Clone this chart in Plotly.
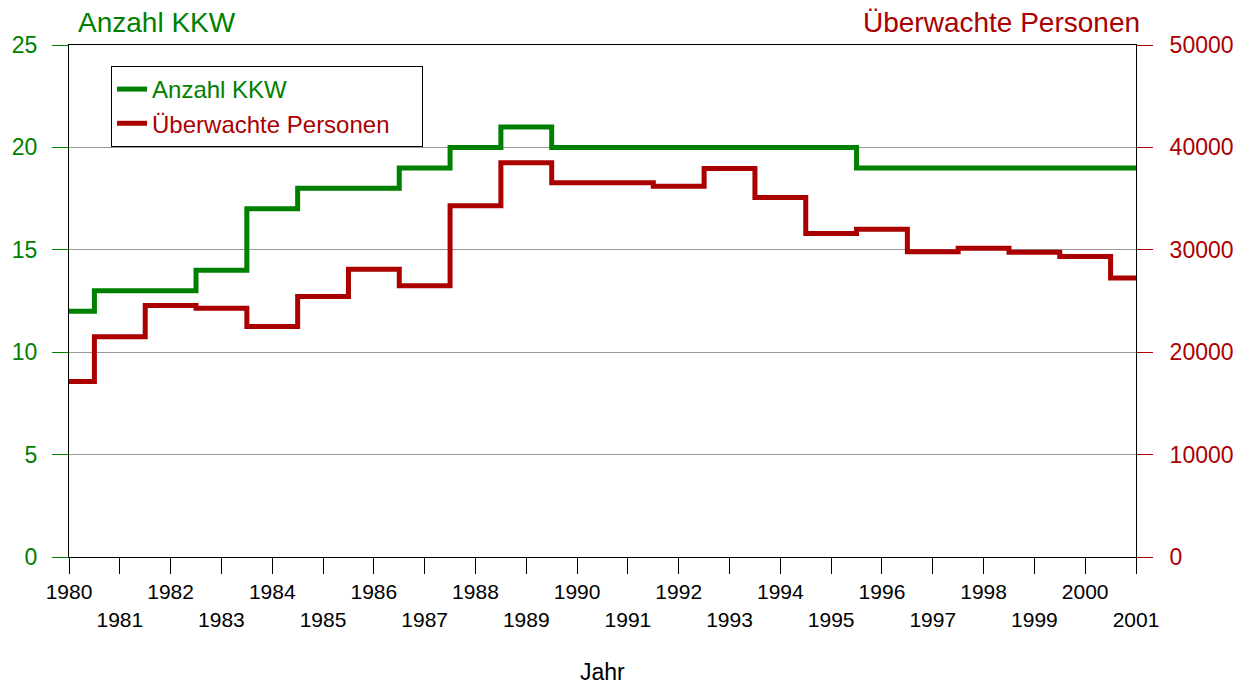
import plotly.graph_objects as go

years = list(range(1980, 2002))
kkw = [12, 13, 13, 14, 17, 18, 18, 19, 20, 21, 20, 20, 20, 20, 20, 20,
       19, 19, 19, 19, 19, 19]
personen = [17150, 21500, 24550, 24300, 22500, 25450, 28100, 26500, 34300, 38500,
            36550, 36550, 36200, 37950, 35100, 31600, 32000, 29800, 30150, 29750,
            29350, 27250]

GREEN = "#008000"
RED = "#aa0000"
FONT = "Liberation Sans, Arial, sans-serif"

# Gerade Jahre oben, ungerade eine Zeile tiefer
tick_text = [str(y) if y % 2 == 0 else "<br>" + str(y) for y in years]

fig = go.Figure()
fig.add_trace(go.Scatter(
    x=years, y=kkw, mode="lines",
    name=f"<span style='color:{GREEN}'>Anzahl KKW</span>",
    line=dict(color=GREEN, width=5, shape="hvh"),
))
fig.add_trace(go.Scatter(
    x=years, y=personen, mode="lines", yaxis="y2",
    name=f"<span style='color:{RED}'>Überwachte Personen</span>" + "&nbsp;" * 4,
    line=dict(color=RED, width=5, shape="hvh"),
))

fig.update_layout(
    width=1249, height=686,
    margin=dict(l=61, r=121, t=37, b=137),
    paper_bgcolor="white", plot_bgcolor="white",
    font=dict(family=FONT, size=22, color="black"),
    showlegend=True,
    legend=dict(
        x=0.0394, y=0.959, xanchor="left", yanchor="top",
        bordercolor="black", borderwidth=1, bgcolor="white",
        font=dict(size=24), tracegroupgap=0, itemwidth=30,
    ),
    xaxis=dict(
        range=[1980, 2001], tickmode="array", tickvals=years, ticktext=tick_text,
        ticks="outside", ticklen=16, tickcolor="black", tickwidth=1,
        showline=True, linecolor="black", linewidth=1, mirror=True,
        showgrid=False, zeroline=False, automargin=False,
        tickfont=dict(size=21, color="black"),
    ),
    yaxis=dict(
        range=[0, 25], dtick=5, ticks="outside", ticklen=16, tickcolor=GREEN,
        tickfont=dict(size=23, color=GREEN), ticklabelstandoff=10,
        showline=True, linecolor="black", linewidth=1, automargin=False,
        showgrid=True, gridcolor="#999999", gridwidth=1, zeroline=False,
    ),
    yaxis2=dict(
        range=[0, 50000], dtick=10000, tickformat="d", overlaying="y", side="right",
        ticks="outside", ticklen=16, tickcolor=RED,
        tickfont=dict(size=23, color=RED), ticklabelstandoff=12,
        showline=True, linecolor="black", linewidth=1, automargin=False,
        showgrid=False, zeroline=False,
    ),
)

fig.add_annotation(
    text="Anzahl KKW", xref="paper", yref="paper", x=0, y=1,
    xanchor="left", yanchor="middle", xshift=7, yshift=23, showarrow=False,
    font=dict(size=28, color=GREEN),
)
fig.add_annotation(
    text="Überwachte Personen", xref="paper", yref="paper", x=1, y=1,
    xanchor="right", yanchor="middle", xshift=6, yshift=23, showarrow=False,
    font=dict(size=28, color=RED),
)
fig.add_annotation(
    text="Jahr", xref="paper", yref="paper", x=0.5, y=0,
    xanchor="center", yanchor="middle", yshift=-115, showarrow=False,
    font=dict(size=23, color="black"),
)

fig.write_html("out.html")
